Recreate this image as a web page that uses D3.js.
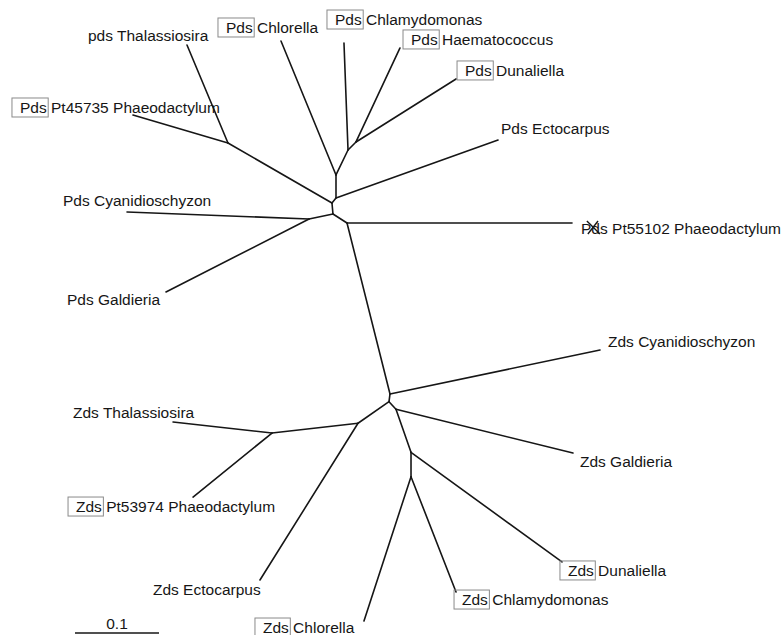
<!DOCTYPE html>
<html>
<head>
<meta charset="utf-8">
<script src="https://cdn.jsdelivr.net/npm/d3@7"></script>
<style>
  html, body { margin: 0; padding: 0; background: #fff; }
  svg { display: block; }
</style>
</head>
<body>
<svg id="chart" width="782" height="635"></svg>
<script>
// ---------------- DATA (tree distances; scale bar = 0.1) ----------------
// internal nodes and leaves, positions in branch-length units
const nodeIds = ["A","B","C","D","E","F","G","H","I","K","L","M","N","P","Q","J",
  "pThal","pPt45735","pChlor","pChlam","pHaem","pDun","pEcto","pCyan","pGald","pPt55102",
  "zCyan","zGald","zDun","zChlam","zChlor","zEcto","zThal","zPt"];
const nodeX = [0.4000,0.4143,0.4238,0.4000,0.3952,0.3964,0.3679,0.4131,0.4643,0.4631,0.4714,0.4893,0.4893,0.4262,0.3238,0.2714,
  0.2226,0.1583,0.3345,0.4095,0.4762,0.5429,0.5929,0.1512,0.1976,0.6810,
  0.7143,0.6821,0.6690,0.5429,0.4333,0.3095,0.2060,0.2298];
const nodeY = [0.2083,0.1786,0.1690,0.2357,0.2417,0.2548,0.2607,0.2655,0.4690,0.4782,0.4873,0.5385,0.5675,0.5039,0.5155,0.1702,
  0.0536,0.1369,0.0488,0.0512,0.0571,0.0940,0.1667,0.2524,0.3476,0.2655,
  0.4167,0.5393,0.6690,0.7048,0.7393,0.6905,0.5024,0.5917];
const edgeFrom = ["J","J","E","A","A","B","B","C","C","D","D","E","F","F","G","G","F","H","H",
  "I","I","K","K","L","L","M","M","N","N","P","P","Q","Q"];
const edgeTo   = ["pThal","pPt45735","J","pChlor","B","pChlam","C","pHaem","pDun","A","pEcto","D","E","G","pCyan","pGald","H","pPt55102","I",
  "zCyan","K","P","L","zGald","M","zDun","N","zChlam","zChlor","Q","zEcto","zThal","zPt"];

const leafIds    = ["pThal","pChlor","pChlam","pHaem","pDun","pEcto","pPt55102","pPt45735","pCyan","pGald",
  "zCyan","zThal","zGald","zPt","zEcto","zDun","zChlam","zChlor"];
const leafPrefix = ["pds","Pds","Pds","Pds","Pds","Pds","Pds","Pds","Pds","Pds",
  "Zds","Zds","Zds","Zds","Zds","Zds","Zds","Zds"];
const leafName   = ["Thalassiosira","Chlorella","Chlamydomonas","Haematococcus","Dunaliella","Ectocarpus",
  "Pt55102 Phaeodactylum","Pt45735 Phaeodactylum","Cyanidioschyzon","Galdieria",
  "Cyanidioschyzon","Thalassiosira","Galdieria","Pt53974 Phaeodactylum","Ectocarpus","Dunaliella","Chlamydomonas","Chlorella"];
const leafBoxed  = [false,true,true,true,true,false,false,true,false,false,
  false,false,false,true,false,true,true,true];
const leafCrossed = ["pPt55102"];
const scaleBarValue = 0.1;
const scaleBarLabel = "0.1";

// ---------------- LAYOUT ----------------
// label anchor (text x, baseline) offsets from the leaf tip, in px
const labelOffset = {
  pThal:[-99,-4], pChlor:[-55,-8], pChlam:[-9,-18], pHaem:[11,-3], pDun:[9,-3],
  pEcto:[3,-6], pPt55102:[9,11], pPt45735:[-113,-2], pCyan:[-64,-6], pGald:[-99,13],
  zCyan:[8,-3], zThal:[-100,-4], zGald:[7,14], zPt:[-117,15], zEcto:[-107,15],
  zDun:[6,14], zChlam:[6,13], zChlor:[-101,12]
};
const FONT = "'Liberation Sans', Arial, Helvetica, sans-serif";
const FS = 15.5;
const INK = "#161616";

const svg = d3.select("#chart");
const x = d3.scaleLinear().domain([0, 1]).range([0, 840]);
const y = d3.scaleLinear().domain([0, 1]).range([0, 840]);

const pos = {};
nodeIds.forEach((id, i) => { pos[id] = [x(nodeX[i]), y(nodeY[i])]; });

// branches
svg.append("g").selectAll("line")
  .data(edgeFrom.map((f, i) => [f, edgeTo[i]]))
  .join("line")
  .attr("x1", d => pos[d[0]][0]).attr("y1", d => pos[d[0]][1])
  .attr("x2", d => pos[d[1]][0]).attr("y2", d => pos[d[1]][1])
  .attr("stroke", INK).attr("stroke-width", 1.6).attr("stroke-linecap", "round");

// labels
const lg = svg.append("g");
leafIds.forEach((id, i) => {
  const tx = pos[id][0] + labelOffset[id][0];
  const ty = pos[id][1] + labelOffset[id][1];
  const t = lg.append("text")
    .attr("x", tx).attr("y", ty)
    .attr("font-family", FONT).attr("font-size", FS)
    .attr("fill", INK);
  const p = t.append("tspan").text(leafPrefix[i]);
  t.append("tspan").text(" " + leafName[i]);
  const pw = p.node().getComputedTextLength();
  if (leafBoxed[i]) {
    lg.append("rect")
      .attr("x", tx - 8).attr("y", ty - 15)
      .attr("width", pw + 9.5).attr("height", 19)
      .attr("fill", "none").attr("stroke", "#8a8a8a").attr("stroke-width", 1);
  }
  if (leafCrossed.includes(id)) {
    const full = t.node();
    const wP = full.getSubStringLength(0, 1);
    const wPd = full.getSubStringLength(0, 2);
    const x0 = tx + wP - 4.5, x1 = tx + wPd;
    lg.append("line").attr("x1", x0).attr("y1", ty - 13).attr("x2", x1).attr("y2", ty)
      .attr("stroke", INK).attr("stroke-width", 1.4);
    lg.append("line").attr("x1", x1 - 2).attr("y1", ty - 13).attr("x2", x0 + 1).attr("y2", ty)
      .attr("stroke", INK).attr("stroke-width", 1.4);
  }
});

// scale bar
const sbX0 = 75, sbY = 633;
svg.append("line")
  .attr("x1", sbX0).attr("y1", sbY)
  .attr("x2", sbX0 + x(scaleBarValue) - x(0)).attr("y2", sbY)
  .attr("stroke", INK).attr("stroke-width", 1.6);
svg.append("text")
  .attr("x", sbX0 + (x(scaleBarValue) - x(0)) / 2).attr("y", 629)
  .attr("text-anchor", "middle")
  .attr("font-family", FONT).attr("font-size", FS).attr("fill", INK)
  .text(scaleBarLabel);
</script>
</body>
</html>
